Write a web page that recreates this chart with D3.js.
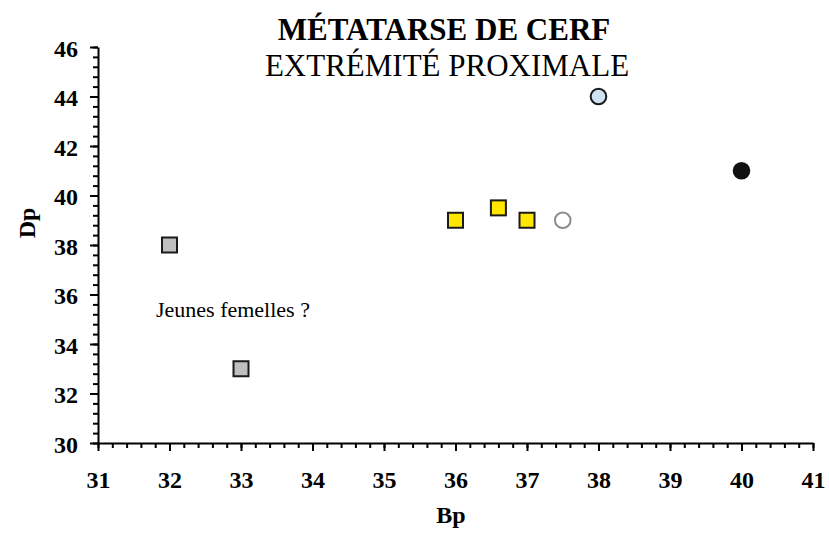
<!DOCTYPE html>
<html><head><meta charset="utf-8">
<script src="https://cdn.jsdelivr.net/npm/d3@7"></script>
<style>body{margin:0;background:#fff}svg{display:block}text{font-family:"Liberation Serif","Times New Roman",serif}</style>
</head><body>
<script>
const grayX = [32, 33], grayY = [38, 33];
const yellowX = [36, 36.6, 37], yellowY = [39, 39.5, 39];
const openX = [37.5], openY = [39];
const blueX = [38], blueY = [44];
const blackX = [40], blackY = [41];
const xTicks = [31,32,33,34,35,36,37,38,39,40,41];
const yTicks = [30,32,34,36,38,40,42,44,46];

const W = 829, H = 534;
const svg = d3.select("body").append("svg").attr("width", W).attr("height", H);
const x = d3.scaleLinear().domain([31, 41]).range([98, 813]);
const y = d3.scaleLinear().domain([30, 46]).range([443, 47]);
const FONT = '"Liberation Serif", "Times New Roman", serif';

// minor ticks
const xMinor = d3.range(31, 41.001, 0.2);
const yMinor = d3.range(30, 46.001, 0.4);
svg.append("g").attr("transform", `translate(0,${y(30)})`)
  .call(d3.axisBottom(x).tickValues(xMinor).tickSize(5).tickFormat(""))
  .call(g => g.select(".domain").remove())
  .call(g => g.selectAll("line").attr("stroke", "#000").attr("stroke-width", 2));
svg.append("g").attr("transform", `translate(${x(31)},0)`)
  .call(d3.axisLeft(y).tickValues(yMinor).tickSize(5).tickFormat(""))
  .call(g => g.select(".domain").remove())
  .call(g => g.selectAll("line").attr("stroke", "#000").attr("stroke-width", 2));

const xa = svg.append("g").attr("transform", `translate(0,${y(30)})`)
  .call(d3.axisBottom(x).tickValues(xTicks).tickSize(8).tickSizeOuter(0).tickPadding(20).tickFormat(d3.format("d")));
const ya = svg.append("g").attr("transform", `translate(${x(31)},0)`)
  .call(d3.axisLeft(y).tickValues(yTicks).tickSize(8).tickSizeOuter(0).tickPadding(12).tickFormat(d3.format("d")));
[xa, ya].forEach(a => {
  a.attr("font-family", FONT).attr("font-size", 24);
  a.select(".domain").attr("stroke", "#000").attr("stroke-width", 2);
  a.selectAll("line").attr("stroke", "#000").attr("stroke-width", 2);
  a.selectAll("text").attr("fill", "#000").style("font-size", "24px").style("font-weight", "bold").style("font-family", FONT);
});
ya.selectAll("text").attr("dy", "0.38em");

// squares
const s = 15;
function squares(xs, ys, fill) {
  svg.append("g").selectAll("rect").data(xs.map((d, i) => [d, ys[i]])).join("rect")
    .attr("x", d => x(d[0]) - s / 2).attr("y", d => y(d[1]) - s / 2)
    .attr("width", s).attr("height", s)
    .attr("fill", fill).attr("stroke", "#1a1a1a").attr("stroke-width", 2);
}
function circles(xs, ys, fill, stroke) {
  svg.append("g").selectAll("circle").data(xs.map((d, i) => [d, ys[i]])).join("circle")
    .attr("cx", d => x(d[0])).attr("cy", d => y(d[1])).attr("r", 7.8)
    .attr("fill", fill).attr("stroke", stroke).attr("stroke-width", 2);
}
squares(grayX, grayY, "#bfbfbf");
squares(yellowX, yellowY, "#ffe600");
circles(openX, openY, "#fff", "#8c8c8c");
circles(blueX, blueY, "#cfe2f3", "#1a1a1a");
circles(blackX, blackY, "#111", "#111");

// titles
svg.append("text").attr("x", 444).attr("y", 40).attr("text-anchor", "middle")
  .style("font-size", "31px").style("font-weight", "bold").text("MÉTATARSE DE CERF");
svg.append("text").attr("x", 447).attr("y", 76).attr("text-anchor", "middle")
  .style("font-size", "31px").text("EXTRÉMITÉ PROXIMALE");
svg.append("text").attr("x", 451).attr("y", 523).attr("text-anchor", "middle")
  .style("font-size", "24px").style("font-weight", "bold").text("Bp");
svg.append("text").attr("transform", "translate(35,223) rotate(-90)").attr("text-anchor", "middle")
  .style("font-size", "24px").style("font-weight", "bold").text("Dp");
svg.append("text").attr("x", 156).attr("y", 317)
  .style("font-size", "22px").text("Jeunes femelles ?");
</script>
</body></html>
